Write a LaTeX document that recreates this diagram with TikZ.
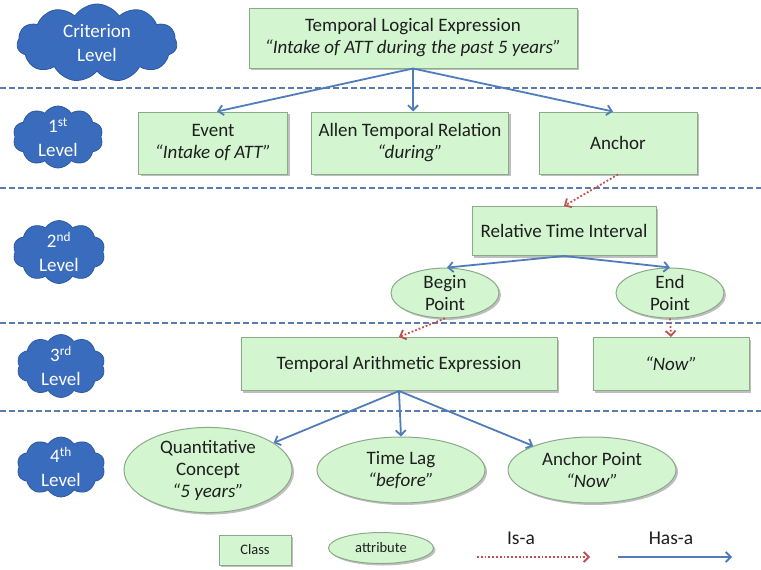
\documentclass[tikz,border=0pt]{standalone}
\usepackage{fontspec}
\setmainfont{Carlito}
\usetikzlibrary{shapes.symbols,shapes.geometric,arrows.meta,shadows}
\definecolor{boxfill}{HTML}{D3F6D1}
\definecolor{boxdraw}{HTML}{8CAA89}
\definecolor{cloudfill}{HTML}{3A6CBE}
\definecolor{clouddraw}{HTML}{2D5A9E}
\definecolor{hasa}{HTML}{4F7DBA}
\definecolor{isa}{HTML}{C0504D}
\definecolor{dashc}{HTML}{5A7AB0}
\definecolor{txt}{HTML}{1E1E1E}
\begin{document}
\begin{tikzpicture}[x=1pt,y=-1pt,
  shadowed/.style={drop shadow={shadow xshift=2pt,shadow yshift=-2pt,opacity=0.25,fill=black}},
  cls/.style={shadowed,draw=boxdraw,fill=boxfill,line width=1pt,align=center,text=txt,
    font=\fontsize{19}{22}\selectfont,inner sep=0pt},
  attr/.style={cls,ellipse},
  lvl/.style={cloud,cloud puffs=11,cloud puff arc=115,aspect=2,fill=cloudfill,draw=clouddraw,
    line width=0.8pt,text=white,align=center,font=\fontsize{19}{24}\selectfont,inner sep=0pt},
  small/.style={aspect=1.45,inner xsep=-4pt,inner ysep=-6pt,cloud puffs=10},
  hasarrow/.style={draw=hasa,line width=1.8pt,-{Straight Barb[length=5pt,width=10pt,line width=1.8pt]}},
  isarrow/.style={draw=isa,line width=1.8pt,dotted,-{Straight Barb[length=5pt,width=10pt,line width=1.8pt]}},
  sep/.style={draw=dashc,line width=1.6pt,dash pattern=on 6pt off 3pt}]
\useasboundingbox (0,0) rectangle (761,570);
\fill[white] (0,0) rectangle (761,570);

% level separators
\foreach \yy in {88,188,323,411} \draw[sep] (0,\yy) -- (761,\yy);

% level clouds
\node[lvl,minimum width=160pt,minimum height=78pt] (c0) at (97,43) {Criterion\\Level};
\node[lvl,small,minimum width=90pt,minimum height=62pt] (c1) at (58,137) {1\textsuperscript{st}\\Level};
\node[lvl,small,minimum width=92pt,minimum height=63pt] (c2) at (59,252) {2\textsuperscript{nd}\\Level};
\node[lvl,small,minimum width=88pt,minimum height=63pt] (c3) at (61,366) {3\textsuperscript{rd}\\Level};
\node[lvl,small,minimum width=88pt,minimum height=60pt] (c4) at (61,467) {4\textsuperscript{th}\\Level};

% classes
\node[cls,minimum width=328pt,minimum height=60pt] (tle) at (413,38)
  {Temporal Logical Expression\\\textit{“Intake of ATT during the past 5 years”}};
\node[cls,minimum width=149pt,minimum height=62pt] (ev) at (213,143) {Event\\\textit{“Intake of ATT”}};
\node[cls,minimum width=197pt,minimum height=62pt] (al) at (410,143) {Allen Temporal Relation\\\textit{“during”}};
\node[cls,minimum width=158pt,minimum height=62pt] (an) at (618,143) {Anchor};
\node[cls,minimum width=184pt,minimum height=49pt] (rti) at (564,231) {Relative Time Interval};
\node[attr,minimum width=108pt,minimum height=43pt] (bp) at (445,293) {Begin\\Point};
\node[attr,minimum width=108pt,minimum height=43pt] (ep) at (670,293) {End\\Point};
\node[cls,minimum width=316pt,minimum height=53pt] (tae) at (399,364) {Temporal Arithmetic Expression};
\node[cls,minimum width=156pt,minimum height=53pt] (now) at (671,364) {\textit{“Now”}};
\node[attr,minimum width=168pt,minimum height=66pt] (qc) at (208,470) {Quantitative\\Concept\\\textit{“5 years”}};
\node[attr,minimum width=168pt,minimum height=66pt] (tl) at (401,470) {Time Lag\\\textit{“before”}};
\node[attr,minimum width=168pt,minimum height=66pt] (ap) at (592,470) {Anchor Point\\\textit{“Now”}};

% connectors
\draw[hasarrow] (tle.south) -- ([xshift=4pt]ev.north);
\draw[hasarrow] (tle.south) -- ([xshift=3pt]al.north);
\draw[hasarrow] (tle.south) -- ([xshift=-5pt]an.north);
\draw[isarrow] (an.south) -- (rti.north);
\draw[hasarrow] (rti.south) -- ([xshift=2pt]bp.north);
\draw[hasarrow] (rti.south) -- (ep.north);
\draw[isarrow] (bp.south) -- (tae.north);
\draw[isarrow] (ep.south) -- (now.north);
\draw[hasarrow] (tae.south) -- (qc);
\draw[hasarrow] (tae.south) -- (tl.north);
\draw[hasarrow] (tae.south) -- (ap);

% legend
\node[cls,font=\fontsize{14.5}{17}\selectfont,minimum width=72pt,minimum height=30pt] (lc) at (255,550) {Class};
\node[attr,font=\fontsize{14.5}{17}\selectfont,minimum width=105pt,minimum height=31pt] (la) at (381,548) {attribute};
\node[text=txt,font=\fontsize{19.5}{22}\selectfont] (lisa) at (521,538) {Is-a};
\node[text=txt,font=\fontsize{19.5}{22}\selectfont] (lhasa) at (671,538) {Has-a};
\coordinate (isa1) at (477,557);
\coordinate (isa2) at (590,557);
\coordinate (has1) at (618,557);
\coordinate (has2) at (732,557);
\draw[isarrow] (isa1) -- (isa2);
\draw[hasarrow] (has1) -- (has2);
\end{tikzpicture}
\end{document}
